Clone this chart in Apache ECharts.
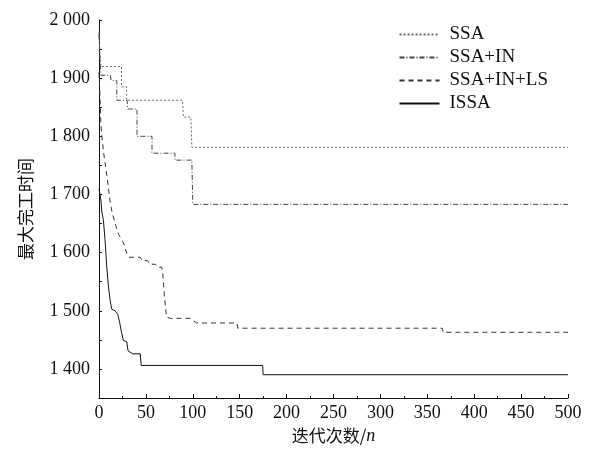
<!DOCTYPE html>
<html>
<head>
<meta charset="utf-8">
<script src="https://cdn.jsdelivr.net/npm/echarts@6/dist/echarts.min.js"></script>
<style>html,body{margin:0;padding:0;background:#fff}#c{width:593px;height:452px}</style>
</head>
<body>
<div id="c"></div>
<script>
var seriesNames = ['SSA', 'SSA+IN', 'SSA+IN+LS', 'ISSA'];
var xTicks = [0, 50, 100, 150, 200, 250, 300, 350, 400, 450, 500];
var yTicks = [1400, 1500, 1600, 1700, 1800, 1900, 2000];

var ssa = [[0,1980],[1,1945],[2,1920],[24,1920],[24,1885],[29.5,1885],[29.5,1862],[89,1862],[90,1833],[98,1833],[99,1781],[500,1781]];
var ssaIn = [[0,1975],[1,1935],[2,1905],[12,1905],[13,1896],[19,1896],[19,1862],[30,1862],[30.5,1847],[40.5,1847],[40.5,1800],[56.5,1800],[56.5,1771],[81,1771],[81,1759],[99,1759],[100,1683],[500,1683]];
var ssaInLs = [[0,1910],[1,1870],[2,1823],[3,1800],[5,1771],[8.5,1731],[12,1686],[14,1669],[17,1651],[21,1631],[26,1617],[30,1597],[32,1592],[44,1592],[46,1586],[52,1586],[54,1580],[60,1580],[62,1575],[67,1575],[68,1563],[70,1520],[72,1489],[76,1487],[97,1487],[104,1479],[147,1479],[148,1470],[366,1470],[367,1463],[500,1463]];
var issa = [[0,1710],[1,1700],[2,1690],[3,1670],[4.6,1657],[6.4,1623],[8.2,1577],[10,1543],[11.7,1520],[13.5,1503],[17,1500],[20,1494],[22,1480],[24,1463],[26,1449],[29.5,1447],[31,1431],[33,1429],[36,1426],[44,1426],[45,1406],[174.5,1406],[175,1390],[500,1390]];

var serif = '"Liberation Serif", "Times New Roman", serif';
var cjk = '"Noto Sans CJK SC", sans-serif';
var chart = echarts.init(document.getElementById('c'));
function fmtY(v){
  if (yTicks.indexOf(v) < 0) return '';
  var th = Math.floor(v/1000), r = v % 1000;
  return th + ' ' + String(r).padStart(3,'0');
}
var styles = [
  {color:'#666', type:[2,2], width:1},
  {color:'#444', type:[5,2,1,2], width:1},
  {color:'#333', type:[5,4], width:1},
  {color:'#111', type:'solid', width:1}
];
var datas = [ssa, ssaIn, ssaInLs, issa];
chart.setOption({
  animation:false,
  backgroundColor:'#fff',
  grid:{left:99, right:25, top:20, bottom:54},
  legend:{
    orient:'vertical', right:40, top:20, itemGap:4, itemWidth:40, itemHeight:14,
    itemStyle:{opacity:0},
    textStyle:{fontFamily:serif, fontSize:19, color:'#111', padding:[0,0,0,5]},
    data: seriesNames
  },
  xAxis:{
    type:'value', min:0, max:500, interval:50,
    name:'迭代次数/{i|n}', nameLocation:'middle', nameGap:29,
    nameTextStyle:{fontFamily:cjk, fontSize:17, color:'#111',
      rich:{i:{fontFamily:serif, fontStyle:'italic', fontSize:18, color:'#111'}}},
    axisLine:{lineStyle:{color:'#111', width:1}},
    axisTick:{inside:true, length:4, lineStyle:{color:'#111'}},
    minorTick:{show:true, splitNumber:2, length:2, lineStyle:{color:'#111'}},
    splitLine:{show:false},
    axisLabel:{fontFamily:serif, fontSize:18, color:'#111', margin:6}
  },
  yAxis:{
    type:'value', min:1350, max:2000, interval:50,
    name:'最大完工时间', nameLocation:'middle', nameGap:65,
    nameTextStyle:{fontFamily:cjk, fontSize:17, color:'#111'},
    axisLine:{show:true, lineStyle:{color:'#111', width:1}},
    axisTick:{inside:true, length:3, lineStyle:{color:'#111'}},
    splitLine:{show:false},
    axisLabel:{fontFamily:serif, fontSize:18, color:'#111', margin:9, formatter:fmtY}
  },
  series: seriesNames.map(function(n,i){
    return {name:n, type:'line', data:datas[i], showSymbol:false, symbol:'none',
      lineStyle:styles[i], itemStyle:{color:styles[i].color}, z: 4-i};
  })
});
</script>
</body>
</html>
